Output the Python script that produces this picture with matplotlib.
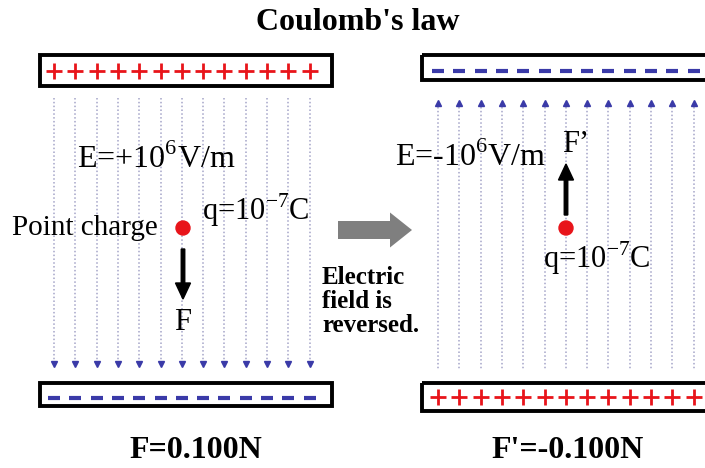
import numpy as np
import matplotlib.pyplot as plt
from matplotlib.patches import Rectangle, Circle, FancyArrow

plt.rcParams['font.family'] = ['Liberation Serif', 'DejaVu Serif']
plt.rcParams['mathtext.fontset'] = 'custom'
plt.rcParams['mathtext.rm'] = 'Liberation Serif'
plt.rcParams['mathtext.bf'] = 'Liberation Serif:bold'

# Diagram content
TITLE = "Coulomb's law"
N_LINES = 13
FIELD_LABELS = [r'E=+10$^{\mathrm{6}}$V/m', r'E=-10$^{\mathrm{6}}$V/m']
CHARGE_LABEL = r'q=10$^{\mathrm{-7}}$C'
FORCE_LABELS = ['F', 'F\u2019']
RESULT_LABELS = ['F=0.100N', "F'=-0.100N"]
MIDDLE_TEXT = ['Electric', 'field is', 'reversed.']
PLATE_SIGNS = [('+', '-'), ('-', '+')]   # (top, bottom) for left / right

# Layout (pixel units, y downwards)
W, H = 705, 468
PANEL_X0 = [54, 438]
SPACING = 21.3
PLATES = [((40, 332), (55, 86), (383, 406)),
          ((422, 720), (55, 80), (383, 411))]

RED = '#e8141a'
BLUE = '#3a3aa8'
LINE_C = '#a4a4c8'

fig = plt.figure(figsize=(W / 100, H / 100), dpi=100)
ax = fig.add_axes([0, 0, 1, 1])
ax.set_xlim(0, W)
ax.set_ylim(H, 0)
ax.axis('off')

ax.text(358, 22, TITLE, ha='center', va='center', fontsize=23,
        fontweight='bold')


def draw_sign(x, y, sign):
    if sign == '+':
        ax.plot(x, y, marker='+', color=RED, ms=11, mew=2, ls='none')
    else:
        ax.plot(x, y, marker='_', color=BLUE, ms=8, mew=3, ls='none')


for p in range(2):
    xs = PANEL_X0[p] + SPACING * np.arange(N_LINES)
    (px0, px1), (ty0, ty1), (by0, by1) = PLATES[p]
    for y0, y1, sign in [(ty0, ty1, PLATE_SIGNS[p][0]),
                         (by0, by1, PLATE_SIGNS[p][1])]:
        ax.add_patch(Rectangle((px0, y0), px1 - px0, y1 - y0, fill=False,
                               lw=2.8, ec='black'))
        sy = (y0 + y1) / 2 + (3 if sign == '-' else 0)
        draw_sign(xs, np.full(N_LINES, sy), sign)
    if p == 0:
        for x in xs:
            ax.plot([x, x], [98, 360], color=LINE_C, lw=1.1, ls=(0, (1, 1.5)))
        ax.plot(xs, np.full(N_LINES, 364), marker='v', color=BLUE, ms=5,
                ls='none')
    else:
        for x in xs:
            ax.plot([x, x], [107, 370], color=LINE_C, lw=1.1, ls=(0, (1, 1.5)))
        ax.plot(xs, np.full(N_LINES, 103), marker='^', color=BLUE, ms=5,
                ls='none')

# left panel
ax.text(77, 159, FIELD_LABELS[0], ha='left', va='center', fontsize=23)
ax.text(202, 210, CHARGE_LABEL, ha='left', va='center', fontsize=22)
ax.text(12, 228, 'Point charge', ha='left', va='center', fontsize=21)
ax.add_patch(Circle((183, 228), 7, color=RED, zorder=5))
ax.add_patch(FancyArrow(183, 249, 0, 50, width=3.5, head_width=15,
                        head_length=16, length_includes_head=True,
                        color='black', zorder=5))
ax.text(183, 322, FORCE_LABELS[0], ha='center', va='center', fontsize=22)
ax.text(196, 451, RESULT_LABELS[0], ha='center', va='center', fontsize=23,
        fontweight='bold')

# middle
ax.add_patch(FancyArrow(338, 230, 74, 0, width=18, head_width=35,
                        head_length=22, length_includes_head=True,
                        color='#7f7f7f', lw=0))
for i, s in enumerate(MIDDLE_TEXT):
    ax.text(322, 278 + 24 * i, s, ha='left', va='center', fontsize=18,
            fontweight='bold')

# right panel
ax.text(395, 157, FIELD_LABELS[1], ha='left', va='center', fontsize=23)
ax.add_patch(Circle((566, 228), 7, color=RED, zorder=5))
ax.add_patch(FancyArrow(566, 215, 0, -51, width=3.5, head_width=15,
                        head_length=16, length_includes_head=True,
                        color='black', zorder=5))
ax.text(562, 145, FORCE_LABELS[1], ha='left', va='center', fontsize=22)
ax.text(543, 258, CHARGE_LABEL, ha='left', va='center', fontsize=22)
ax.text(568, 451, RESULT_LABELS[1], ha='center', va='center', fontsize=23,
        fontweight='bold')

fig.savefig('out.png', dpi=100)
